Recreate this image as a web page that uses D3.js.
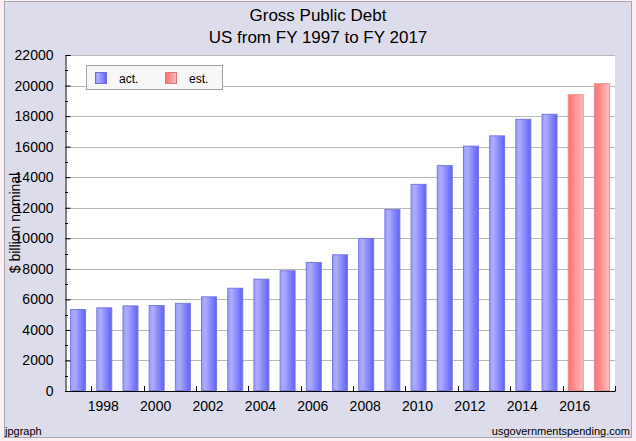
<!DOCTYPE html>
<html>
<head>
<meta charset="utf-8">
<script src="https://cdn.jsdelivr.net/npm/d3@7"></script>
<style>
  body { margin: 0; background: #fdeef1; }
  svg { display: block; font-family: "Liberation Sans", Arial, sans-serif; }
</style>
</head>
<body>
<svg id="chart"></svg>
<script>
// Gross public debt, $ billion nominal
const years = [1997, 1998, 1999, 2000, 2001, 2002, 2003, 2004, 2005, 2006, 2007,
               2008, 2009, 2010, 2011, 2012, 2013, 2014, 2015, 2016, 2017];
const debt = [5369, 5478, 5606, 5629, 5770, 6198, 6760, 7354, 7905, 8451, 8951,
              10025, 11910, 13562, 14790, 16066, 16738, 17824, 18151, 19430, 20150];
const kind = ["act", "act", "act", "act", "act", "act", "act", "act", "act", "act", "act",
              "act", "act", "act", "act", "act", "act", "act", "act", "est", "est"];
const yTicks = [0, 2000, 4000, 6000, 8000, 10000, 12000, 14000, 16000, 18000, 20000, 22000];
const xLabelYears = [1998, 2000, 2002, 2004, 2006, 2008, 2010, 2012, 2014, 2016];
const legendItems = [{key: "act", label: "act."}, {key: "est", label: "est."}];

function main() {
    const width = 636, height = 441;
    const plot = {left: 65, right: 615, top: 55, bottom: 391};

    let svg = d3.select("#chart")
        .attr("width", width)
        .attr("height", height);

    // gradients for the bars and legend swatches
    let defs = svg.append("defs");
    let gAct = defs.append("linearGradient").attr("id", "gradAct");
    gAct.append("stop").attr("offset", "0%").attr("stop-color", "#9c9cff");
    gAct.append("stop").attr("offset", "25%").attr("stop-color", "#adadff");
    gAct.append("stop").attr("offset", "100%").attr("stop-color", "#6161f5");
    let gEst = defs.append("linearGradient").attr("id", "gradEst");
    gEst.append("stop").attr("offset", "0%").attr("stop-color", "#ff7070");
    gEst.append("stop").attr("offset", "70%").attr("stop-color", "#ffa4a4");
    gEst.append("stop").attr("offset", "100%").attr("stop-color", "#ffc4c4");

    // frame
    svg.append("rect")
        .attr("x", 4.5).attr("y", 1.5)
        .attr("width", 627).attr("height", 436)
        .attr("fill", "#dcdcea")
        .attr("stroke", "#a8a8b0");

    // plot background
    svg.append("rect")
        .attr("x", plot.left).attr("y", plot.top)
        .attr("width", plot.right - plot.left).attr("height", plot.bottom - plot.top)
        .attr("fill", "#ffffff");

    const x = d3.scaleBand()
        .domain(years)
        .range([plot.left, plot.right])
        .paddingInner(0.39)
        .paddingOuter(0.195);

    const y = d3.scaleLinear()
        .domain([0, 22000])
        .range([plot.bottom, plot.top]);

    // grid lines
    svg.append("g")
        .selectAll("line")
        .data(yTicks.filter(d => d > 0))
        .join("line")
        .attr("x1", plot.left).attr("x2", plot.right)
        .attr("y1", d => Math.round(y(d)) + 0.5)
        .attr("y2", d => Math.round(y(d)) + 0.5)
        .attr("stroke", "#b8b8b8");

    // bars
    svg.append("g")
        .selectAll("rect")
        .data(years)
        .join("rect")
        .attr("x", d => x(d) + 0.5)
        .attr("y", (d, i) => y(debt[i]) + 0.5)
        .attr("width", x.bandwidth() - 1)
        .attr("height", (d, i) => y(0) - y(debt[i]) - 1)
        .attr("fill", (d, i) => kind[i] == "act" ? "url(#gradAct)" : "url(#gradEst)")
        .attr("stroke", (d, i) => kind[i] == "act" ? "#7878e6" : "#e68a8a")
        .attr("stroke-width", 1);

    // y axis with inward ticks
    const yAxis = d3.axisLeft(y)
        .tickValues(yTicks)
        .tickSize(-5)
        .tickPadding(12)
        .tickFormat(d3.format("d"));
    let ya = svg.append("g")
        .attr("transform", `translate(${plot.left + 0.5},0)`)
        .call(yAxis);
    ya.select(".domain").attr("stroke", "#000");
    ya.selectAll(".tick line").attr("stroke", "#000");
    ya.selectAll("text")
        .attr("font-size", 14)
        .attr("fill", "#000")
        .attr("x", -12)
        .attr("font-family", "Liberation Sans, Arial, sans-serif");

    // minor y ticks
    svg.append("g")
        .selectAll("line")
        .data(d3.range(1000, 22000, 2000))
        .join("line")
        .attr("x1", plot.left).attr("x2", plot.left + 3)
        .attr("y1", d => Math.round(y(d)) + 0.5)
        .attr("y2", d => Math.round(y(d)) + 0.5)
        .attr("stroke", "#000");

    // x axis line
    svg.append("line")
        .attr("x1", plot.left).attr("x2", plot.right + 0.5)
        .attr("y1", plot.bottom + 0.5).attr("y2", plot.bottom + 0.5)
        .attr("stroke", "#000");

    // x ticks at slot boundaries of even years, plus end
    const step = x.step();
    const slotStart = yr => x(yr) - x.paddingInner() * step / 2;
    svg.append("g")
        .selectAll("line")
        .data(xLabelYears)
        .join("line")
        .attr("x1", d => Math.round(slotStart(d)) + 0.5)
        .attr("x2", d => Math.round(slotStart(d)) + 0.5)
        .attr("y1", plot.bottom).attr("y2", plot.bottom - 5)
        .attr("stroke", "#000");
    svg.append("line")
        .attr("x1", plot.right + 0.5).attr("x2", plot.right + 0.5)
        .attr("y1", plot.bottom).attr("y2", plot.bottom - 5)
        .attr("stroke", "#000");

    // x labels
    svg.append("g")
        .selectAll("text")
        .data(xLabelYears)
        .join("text")
        .attr("x", d => x(d) + x.bandwidth() / 2 - 1)
        .attr("y", 411)
        .attr("text-anchor", "middle")
        .attr("font-size", 14)
        .text(d => d);

    // titles
    svg.append("text")
        .attr("x", 318).attr("y", 21)
        .attr("text-anchor", "middle")
        .attr("font-size", 17)
        .text("Gross Public Debt");
    svg.append("text")
        .attr("x", 318).attr("y", 43)
        .attr("text-anchor", "middle")
        .attr("font-size", 17)
        .text("US from FY 1997 to FY 2017");

    // y axis title
    svg.append("text")
        .attr("transform", "translate(20,223) rotate(-90)")
        .attr("text-anchor", "middle")
        .attr("font-size", 14)
        .text("$ billion nominal");

    // legend
    let lg = svg.append("g");
    lg.append("rect")
        .attr("x", 86.5).attr("y", 65.5)
        .attr("width", 136).attr("height", 24)
        .attr("fill", "#f7f7f7")
        .attr("stroke", "#a0a0a0");
    let item = lg.selectAll("g")
        .data(legendItems)
        .join("g")
        .attr("transform", (d, i) => `translate(${95 + i * 70},72)`);
    item.append("rect")
        .attr("x", 0.5).attr("y", 0.5)
        .attr("width", 11).attr("height", 11)
        .attr("fill", d => d.key == "act" ? "url(#gradAct)" : "url(#gradEst)")
        .attr("stroke", d => d.key == "act" ? "#6a6ad8" : "#d87a7a");
    item.append("text")
        .attr("x", 24).attr("y", 11)
        .attr("font-size", 12)
        .text(d => d.label);

    // footers
    svg.append("text")
        .attr("x", 5).attr("y", 435)
        .attr("font-size", 11)
        .text("jpgraph");
    svg.append("text")
        .attr("x", 630).attr("y", 435)
        .attr("text-anchor", "end")
        .attr("font-size", 11)
        .text("usgovernmentspending.com");
}

main();
</script>
</body>
</html>
